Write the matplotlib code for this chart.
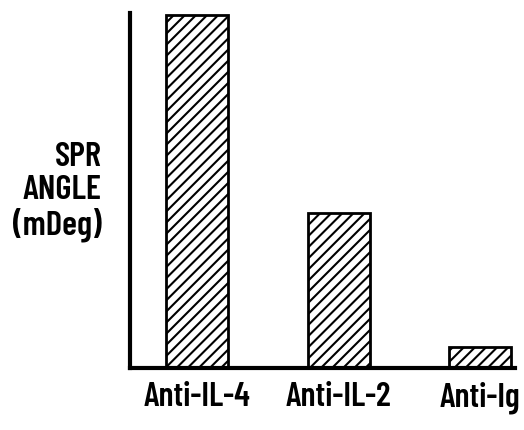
import matplotlib
matplotlib.use("Agg")
import matplotlib.pyplot as plt

categories = ["Anti-IL-4", "Anti-IL-2", "Anti-Ig"]
values = [100, 44, 6]

plt.rcParams['hatch.linewidth'] = 1.5
FONT = ['Barlow Condensed', 'DejaVu Sans']

fig = plt.figure(figsize=(5.24, 4.30), dpi=100)
ax = fig.add_axes([130/524, 1 - 368/430, 385/524, 355/430])

x = list(range(len(categories)))
ax.bar(x, values, width=0.438, facecolor='white', edgecolor='black',
       linewidth=2, hatch='///')

ax.set_xlim(-0.4735, 2.244)
ax.set_ylim(0, 100.6)

for s in ['top', 'right']:
    ax.spines[s].set_visible(False)
for s in ['left', 'bottom']:
    ax.spines[s].set_linewidth(3)
    ax.spines[s].set_capstyle('projecting')

ax.set_yticks([])
ax.set_xticks(x)
ax.set_xticklabels(categories, family=FONT, fontweight='semibold', fontsize=24.5)
ax.tick_params(axis='x', length=0, pad=10)

fig.text(102/524, 1 - 192/430, "SPR\nANGLE\n(mDeg)", ha='right', va='center',
         family=FONT, fontweight='semibold', fontsize=25, linespacing=1.05,
         multialignment='right')

fig.savefig("out.png", dpi=100)
